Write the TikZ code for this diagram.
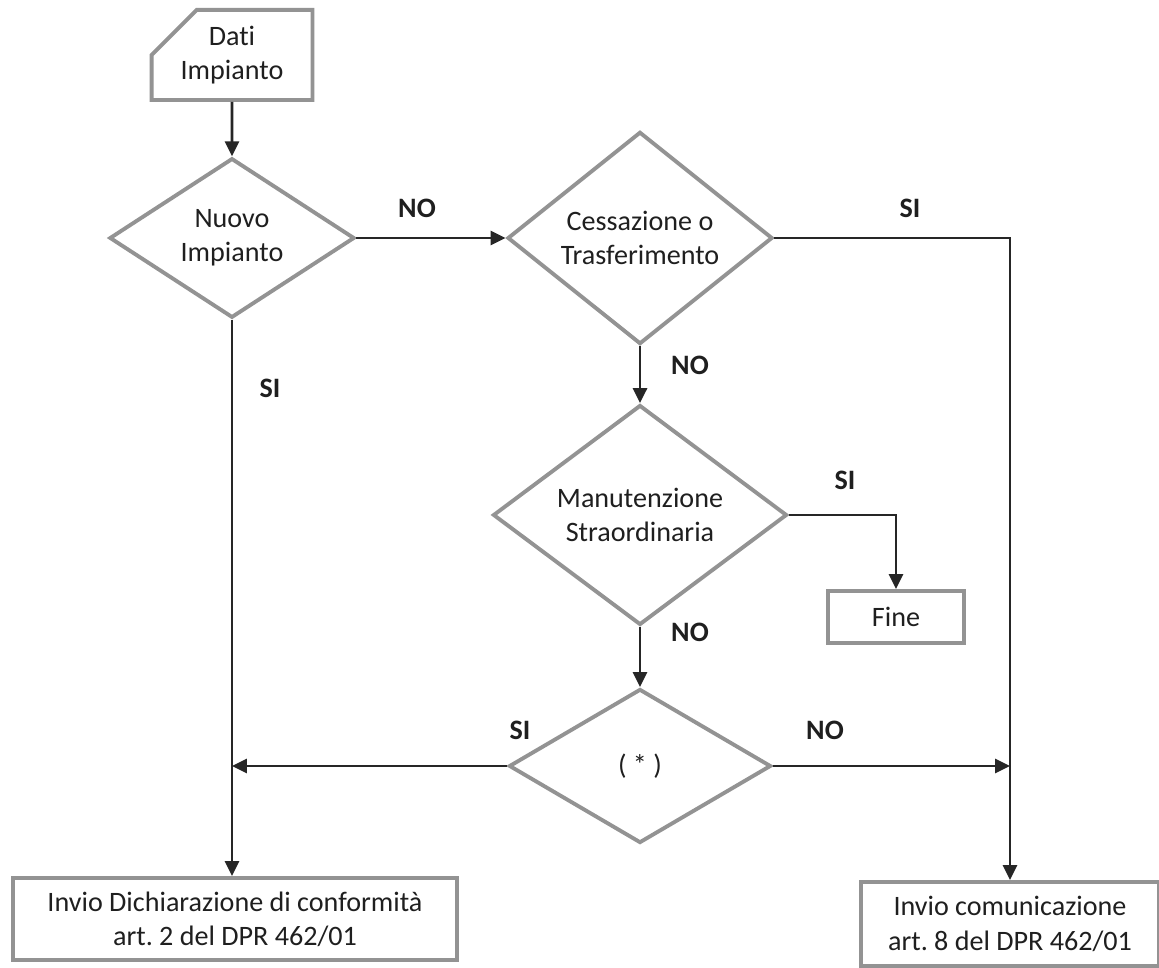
\documentclass[tikz,border=0pt]{standalone}
\usepackage{fontspec}
\setmainfont[Ligatures=NoCommon]{Carlito}
\usetikzlibrary{shapes.geometric,shapes.misc,arrows.meta}

\begin{document}
\frenchspacing
\begin{tikzpicture}[
  font=\fontsize{16pt}{19.5pt}\selectfont,
  box/.style={draw=gray!85,line width=2.2pt,rectangle,align=center,inner sep=0pt,text=black!88},
  choice/.style={draw=gray!85,line width=2.2pt,diamond,align=center,inner sep=0pt,text=black!88},
  flow/.style={line width=1.5pt,color=black!85,-{Triangle[length=8.5pt,width=8pt]}},
  answer/.style={font=\fontsize{16pt}{19.5pt}\selectfont\bfseries,text=black!88}
]
\useasboundingbox (0,0) rectangle (23.18,19.34);
\fill [white] (0,0) rectangle (23.18,19.34);

\node [box,chamfered rectangle,chamfered rectangle corners=north west,
  chamfered rectangle xsep=0.6cm,chamfered rectangle ysep=0.32cm,
  minimum width=3.2cm,minimum height=1.7cm] (dati) at (4.64,18.24) {Dati\\Impianto};
\node [choice,minimum width=4.9cm,minimum height=3.02cm] (nuovo) at (4.64,14.58) {Nuovo\\Impianto};
\node [choice,minimum width=5.3cm,minimum height=4.0cm] (cess) at (12.8,14.58) {Cessazione o\\Trasferimento};
\node [choice,minimum width=5.88cm,minimum height=3.88cm] (manut) at (12.8,9.04) {Manutenzione\\Straordinaria};
\node [choice,minimum width=5.24cm,minimum height=3.08cm] (star) at (12.8,4.02) {( * )};
\node [box,minimum width=2.72cm,minimum height=1.04cm] (fine) at (17.92,7.0) {Fine};
\node [box,minimum width=8.88cm,minimum height=1.64cm] (dich) at (4.7,0.96) {Invio Dichiarazione di conformità\\art. 2 del DPR 462/01};
\node [box,minimum width=5.96cm,minimum height=1.68cm] (comu) at (20.2,0.86) {Invio comunicazione\\art. 8 del DPR 462/01};

\draw [flow] (dati) -- (nuovo);
\draw [flow] (nuovo) -- (cess);
\draw [flow] (cess.east) -| (comu.north);
\draw [flow] (cess) -- (manut);
\draw [flow] (manut.east) -| (fine.north);
\draw [flow] (manut) -- (star);
\draw [flow] (nuovo.south) -- (nuovo.south |- dich.north);
\draw [flow] (star.west) -- (nuovo.south |- star.west);
\draw [flow] (star.east) -- (comu.north |- star.east);

\node [answer] (nuovoNo) at (8.34,15.18) {NO};
\node [answer] (nuovoSi) at (5.4,11.58) {SI};
\node [answer] (cessSi) at (18.2,15.18) {SI};
\node [answer] (cessNo) at (13.8,12.04) {NO};
\node [answer] (manutSi) at (16.9,9.74) {SI};
\node [answer] (manutNo) at (13.8,6.7) {NO};
\node [answer] (starSi) at (10.4,4.74) {SI};
\node [answer] (starNo) at (16.5,4.74) {NO};
\end{tikzpicture}
\end{document}
